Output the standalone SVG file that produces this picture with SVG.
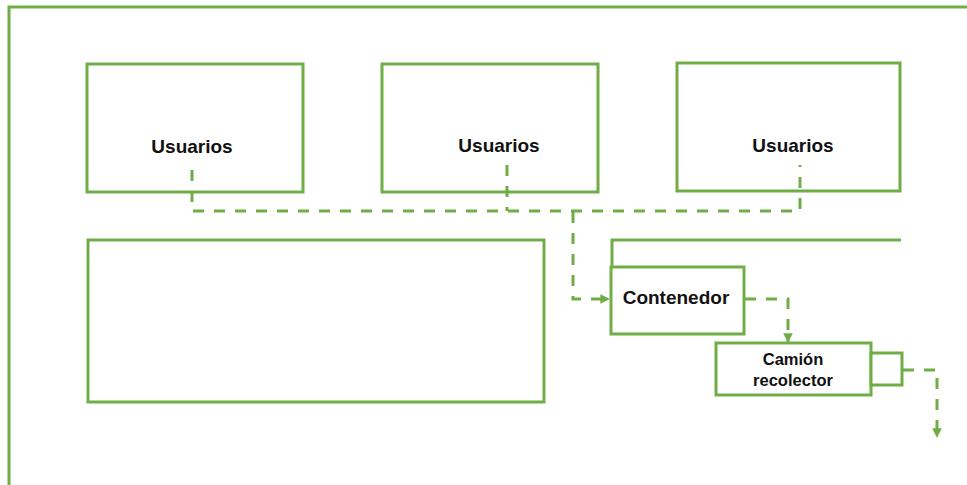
<svg xmlns="http://www.w3.org/2000/svg" width="967" height="485" viewBox="0 0 967 485">
<style>
.box{fill:#fff;stroke:#70ad47;stroke-width:3}
.ln{fill:none;stroke:#70ad47;stroke-width:3}
.dash{fill:none;stroke:#70ad47;stroke-width:3;stroke-dasharray:11 10}
.t{font-family:"Liberation Sans",Arial,sans-serif;font-weight:bold;fill:#111;text-anchor:middle}
</style>
<defs>
<marker id="ah" viewBox="0 0 10 10" refX="9" refY="5" markerWidth="3.2" markerHeight="3.2" orient="auto" markerUnits="strokeWidth">
<path d="M0,0 L10,5 L0,10 Z" fill="#70ad47"/>
</marker>
</defs>
<rect width="967" height="485" fill="#fff"/>
<g id="frame">
<path class="ln" d="M9,485 V7 H967"/>
</g>
<g id="users1">
<rect class="box" x="87" y="64" width="216" height="128"/>
<text class="t" x="192" y="153" font-size="19">Usuarios</text>
</g>
<g id="users2">
<rect class="box" x="382" y="64" width="216" height="128"/>
<text class="t" x="499" y="152" font-size="19">Usuarios</text>
</g>
<g id="users3">
<rect class="box" x="677" y="63" width="223" height="128"/>
<text class="t" x="793" y="152" font-size="19">Usuarios</text>
</g>
<g id="block">
<rect class="box" x="88" y="240" width="456" height="162"/>
</g>
<g id="zone">
<path class="ln" d="M612,267 V240 H901"/>
</g>
<g id="contenedor">
<rect class="box" x="611" y="267" width="133" height="67"/>
<text class="t" x="676" y="304" font-size="19">Contenedor</text>
</g>
<g id="camion">
<rect class="box" x="716" y="343" width="155" height="52"/>
<rect class="box" x="871" y="353" width="31" height="32"/>
<text class="t" x="793" y="365" font-size="16.5">Camión</text>
<text class="t" x="793" y="386" font-size="16.5">recolector</text>
</g>
<g id="connectors">
<path class="dash" d="M192,170 V211 H800 V165"/>
<path class="dash" d="M507,165 V211"/>
<path class="dash" d="M573,212 V299 H609" marker-end="url(#ah)"/>
<path class="dash" d="M745,299 H788 V342" marker-end="url(#ah)"/>
<path class="dash" d="M903,370 H937 V437" marker-end="url(#ah)"/>
</g>
</svg>
